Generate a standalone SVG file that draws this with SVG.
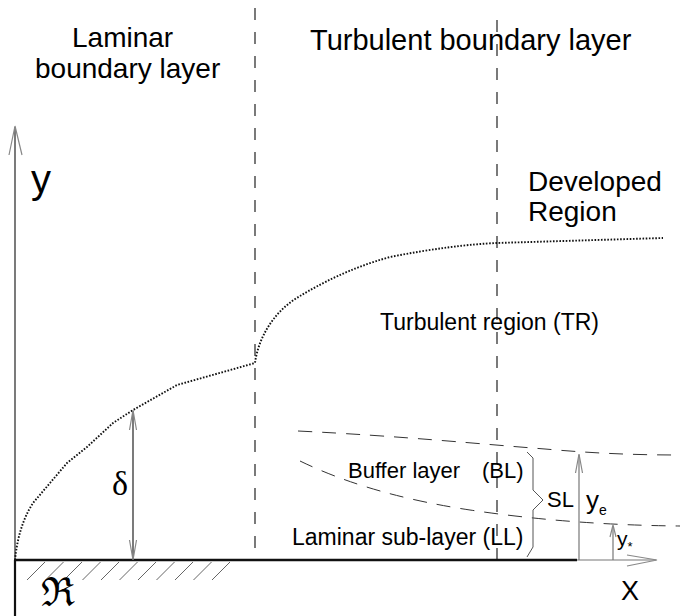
<svg xmlns="http://www.w3.org/2000/svg" width="680" height="616" viewBox="0 0 680 616">
<style>
text{font-family:"Liberation Sans",Arial,sans-serif;fill:#000}
.serif{font-family:"Liberation Serif","Times New Roman",serif}
.thin{stroke:#222;stroke-width:1.2;fill:none}
.head{stroke:#888;stroke-width:1.2;fill:none}
.vdash{stroke:#222;stroke-width:1.2;stroke-dasharray:12 12;fill:none}
.cdash{stroke:#333;stroke-width:1;stroke-dasharray:14 10;fill:none}
.dot{stroke:#111;stroke-width:1.9;stroke-dasharray:1.6 1.6;fill:none}
.hatch{stroke:#666;stroke-width:1}
</style>
<rect width="680" height="616" fill="#fff"/>

<g id="region-titles">
<text x="72" y="47" font-size="28">Laminar</text>
<text x="35" y="78" font-size="28">boundary layer</text>
<text x="310" y="50" font-size="29">Turbulent boundary layer</text>
<text x="528" y="191" font-size="28">Developed</text>
<text x="528" y="221" font-size="28">Region</text>
</g>

<g id="dividers">
<line class="vdash" x1="255" y1="8" x2="255" y2="560"/>
<line class="vdash" x1="497" y1="20" x2="497" y2="572"/>
</g>

<g id="wall">
<line x1="15" y1="560" x2="577" y2="560" stroke="#111" stroke-width="2.5"/>
<line x1="15" y1="560" x2="15" y2="616" stroke="#111" stroke-width="2.2"/>
<g class="hatch">
<line x1="45" y1="562" x2="27" y2="580"/>
<line x1="63.5" y1="562" x2="45.5" y2="580"/>
<line x1="82" y1="562" x2="64" y2="580"/>
<line x1="100.5" y1="562" x2="82.5" y2="580"/>
<line x1="119" y1="562" x2="101" y2="580"/>
<line x1="137.5" y1="562" x2="119.5" y2="580"/>
<line x1="156" y1="562" x2="138" y2="580"/>
<line x1="174.5" y1="562" x2="156.5" y2="580"/>
<line x1="193" y1="562" x2="175" y2="580"/>
<line x1="211.5" y1="562" x2="193.5" y2="580"/>
<line x1="230" y1="562" x2="212" y2="580"/>
</g>
<text x="41" y="606" font-size="40" font-family="'DejaVu Serif','DejaVu Sans',serif">ℜ</text>
</g>

<g id="axes">
<line class="thin" x1="15" y1="127" x2="15" y2="560"/>
<polyline class="head" points="9,155 15,126 22,155"/>
<text x="31" y="193" font-size="40">y</text>
<line x1="577" y1="560" x2="656" y2="560" stroke="#777" stroke-width="1.2"/>
<polyline class="head" points="627,555 657,560 627,566"/>
<text x="621" y="600" font-size="27">X</text>
</g>

<g id="curves">
<path class="dot" d="M15,560 C17,540 22,520 33,503 L50,483 L67,463 L87,447 L113,423 L133,410 L177,385 L255,363 C258,340 272,312 300,296 C320,284 350,268 390,257 C430,249 470,244 497,243 L663,238"/>
<path class="cdash" d="M298,431 C400,436 480,444 545,449 C590,453 630,455 680,455"/>
<path class="cdash" d="M300,461 Q370,495 470,510 T680,526"/>
</g>

<g id="region-labels">
<text x="380" y="330" font-size="23">Turbulent region (TR)</text>
<text x="348" y="478" font-size="22">Buffer layer<tspan x="482">(BL)</tspan></text>
<text x="292" y="545" font-size="23">Laminar sub-layer (LL)</text>
</g>

<g id="connectors">
<g id="delta">
<line class="thin" x1="133" y1="411" x2="133" y2="559"/>
<polyline class="head" points="129.5,430 133,410 136.5,430"/>
<polyline class="head" points="129.5,540 133,560 136.5,540"/>
<text class="serif" x="112" y="495" font-size="34">δ</text>
</g>
<g id="brace">
<polyline points="527,452 533,458 533,490 543,500 533,510 533,547 527,557" fill="none" stroke="#555" stroke-width="1"/>
<text x="547" y="507" font-size="22">SL</text>
</g>
<g id="ye">
<line x1="579" y1="455" x2="579" y2="560" stroke="#777" stroke-width="1.2"/>
<polyline class="head" points="575.5,473 579,454 582.5,473"/>
<text x="586" y="509" font-size="26">y<tspan font-size="14" dy="6">e</tspan></text>
</g>
<g id="ystar">
<line x1="613" y1="526" x2="613" y2="560" stroke="#777" stroke-width="1.2"/>
<polyline class="head" points="610,537 613,525 616,537"/>
<text x="617" y="546" font-size="21">y<tspan font-size="13" dy="5">*</tspan></text>
</g>
</g>
</svg>
